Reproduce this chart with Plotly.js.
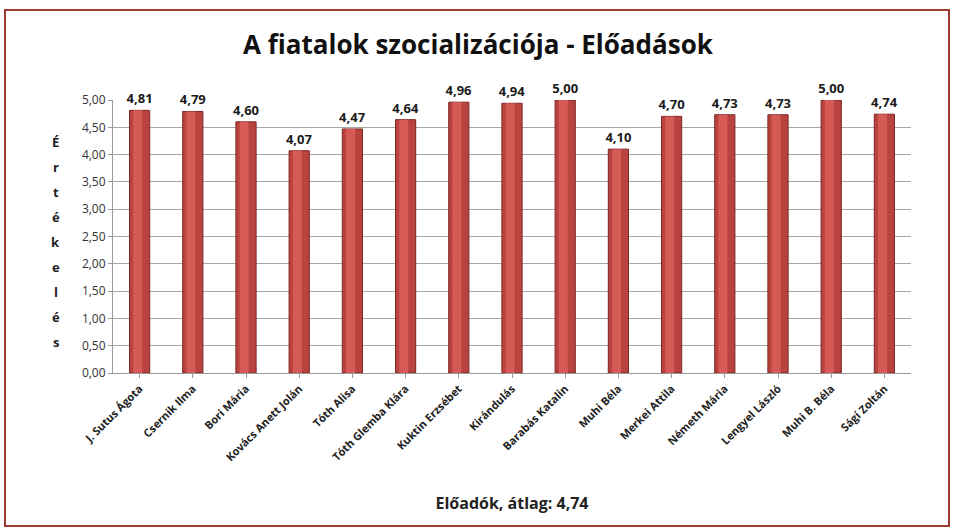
<!DOCTYPE html>
<html><head><meta charset="utf-8">
<script src="https://cdn.plot.ly/plotly-3.0.1.min.js"></script>
<style>
html,body{margin:0;padding:0;background:#fff;}
#chart{position:absolute;left:0;top:0;width:956px;height:532px;}
#frame{position:absolute;left:4px;top:9px;width:942px;height:514px;border:2px solid #a23a36;pointer-events:none;}
</style></head>
<body>
<div id="chart"></div>
<div id="frame"></div>
<script>
const categories = ["J. Sutus Ágota","Csernik Ilma","Bori Mária","Kovács Anett Jolán","Tóth Alisa","Tóth Glemba Klára","Kuktin Erzsébet","Kirándulás","Barabás Katalin","Muhi Béla","Merkei Attila","Németh Mária","Lengyel László","Muhi B. Béla","Ságí Zoltán"];
const values = [4.81,4.79,4.60,4.07,4.47,4.64,4.96,4.94,5.00,4.10,4.70,4.73,4.73,5.00,4.74];
const yTicks = [0,0.5,1,1.5,2,2.5,3,3.5,4,4.5,5];
const chartTitle = "A fiatalok szocializációja - Előadások";
const xTitle = "Előadók, átlag: 4,74";
const yTitleLetters = ["É","r","t","é","k","e","l","é","s"];

const font = "Open Sans, Noto Sans, sans-serif";
const traces = [
  {type:"bar", x:categories, y:values, width:0.38,
   marker:{color:"#b8433f", line:{color:"#7e2724", width:1}},
   text:values.map(v=>v.toFixed(2).replace(".",",")), textposition:"outside",
   constraintext:"none",
   textfont:{family:font, size:13, color:"#1a1a1a", weight:700},
   cliponaxis:false, hoverinfo:"x+y"},
  {type:"bar", x:categories, y:values, width:0.17, offset:-0.12,
   marker:{color:"#d65a55"}, hoverinfo:"skip"}
];
// plot area: top 100px, bottom 373px
const yTitleAnn = yTitleLetters.map((ch,i)=>({
  text:"<b>"+ch+"</b>", xref:"paper", yref:"paper",
  x:-0.072, y:(373-(142+25*i))/273, xanchor:"center", yanchor:"middle",
  showarrow:false, font:{family:font, size:13, color:"#222"}}));
const layout = {
  width:956, height:532,
  margin:{l:113, r:45, t:100, b:159},
  paper_bgcolor:"rgba(0,0,0,0)", plot_bgcolor:"#fff",
  barmode:"overlay", showlegend:false, separators:",.",
  title:{text:"<b>"+chartTitle+"</b>", x:0.5, xanchor:"center", y:0.915, yanchor:"middle",
         font:{family:font, size:26, color:"#111"}},
  xaxis:{tickangle:-45, tickfont:{family:font, size:11, color:"#222", weight:700},
         showline:true, linecolor:"#999", ticks:"outside", ticklen:4, tickcolor:"#999",
         showgrid:false, fixedrange:true,
         title:{text:"<b>"+xTitle+"</b>", font:{family:font, size:16, color:"#222"}, standoff:34}},
  yaxis:{range:[0,5], tickvals:yTicks, tickformat:".2f", tickfont:{family:font, size:12, color:"#333"},
         showgrid:true, gridcolor:"#a6a6a6", gridwidth:1, showline:true, linecolor:"#999",
         ticks:"outside", ticklen:4, tickcolor:"#999", zeroline:false, fixedrange:true},
  annotations:yTitleAnn
};
Plotly.newPlot("chart", traces, layout, {displayModeBar:false, staticPlot:true});
</script>
</body></html>
